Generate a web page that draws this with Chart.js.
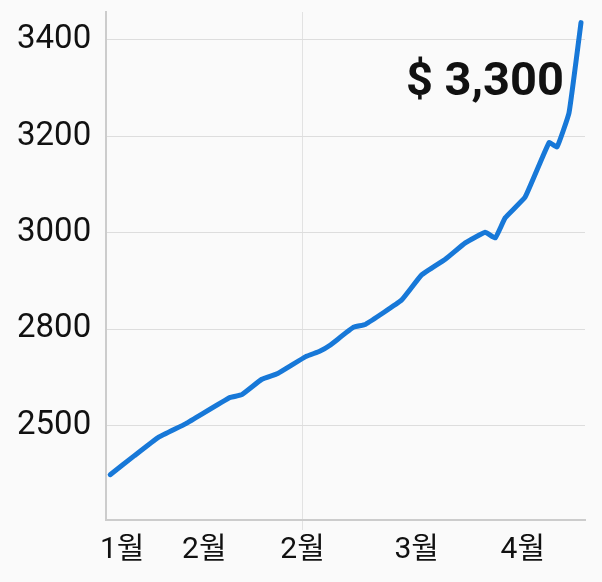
<!DOCTYPE html>
<html>
<head>
<script src="https://cdn.jsdelivr.net/npm/chart.js@4.4.1/dist/chart.umd.min.js"></script>
<style>
  body { margin: 0; background: #fafafa; }
  #wrap { width: 602px; height: 582px; }
</style>
</head>
<body>
<div id="wrap"><canvas id="myChart" width="602" height="582"></canvas></div>
<script>
// days since Jan 1 and the price on that day
const days = [1, 7, 13, 20, 31, 34, 39, 43, 50, 53.5, 56, 62, 65, 74, 79, 85, 90, 95, 97.5, 100, 105, 111, 113, 116, 119];
const prices = [2498, 2537, 2575, 2604, 2658, 2664, 2696, 2708, 2743, 2754, 2766, 2804, 2810, 2860, 2912, 2945, 2979, 3001, 2989, 3031, 3074, 3187, 3178, 3249, 3436];

// axis ticks as drawn in the picture
const xTickDays = [4, 24.6, 49.2, 77.8, 104.4];
const xTickLabels = ['1월', '2월', '2월', '3월', '4월'];
const yTickValues = [2600, 2800, 3000, 3200, 3400];
const yTickLabels = ['2500', '2800', '3000', '3200', '3400'];

const headline = '$ 3,300';

const FONT = "Roboto, 'Noto Sans CJK KR', sans-serif";

// big price label in the upper right of the plot
const headlinePlugin = {
  id: 'headline',
  afterDraw(chart) {
    const ctx = chart.ctx;
    ctx.save();
    ctx.font = 'bold 47px ' + FONT;
    ctx.fillStyle = '#111';
    ctx.textAlign = 'right';
    ctx.textBaseline = 'alphabetic';
    ctx.fillText(headline, 564, 95);
    ctx.restore();
  }
};

const ctx = document.getElementById('myChart').getContext('2d');
const myChart = new Chart(ctx, {
  type: 'line',
  data: {
    datasets: [{
      data: days.map((d, i) => ({ x: d, y: prices[i] })),
      borderColor: '#1778d8',
      borderWidth: 5,
      pointRadius: 0,
      tension: 0.1,
      borderJoinStyle: 'round',
      borderCapStyle: 'round',
      fill: false
    }]
  },
  options: {
    responsive: false,
    animation: false,
    layout: { padding: { left: 2, right: 17, top: 12, bottom: 12 } },
    plugins: {
      legend: { display: false },
      tooltip: { enabled: false }
    },
    scales: {
      x: {
        type: 'linear',
        min: 0,
        max: 120,
        afterBuildTicks: axis => { axis.ticks = xTickDays.map(v => ({ value: v })); },
        afterFit: axis => { axis.paddingLeft = 0; axis.paddingRight = 0; },
        ticks: {
          autoSkip: false,
          maxRotation: 0,
          padding: 2,
          color: '#111',
          font: { family: FONT, size: 30 },
          callback: (v, i) => xTickLabels[i]
        },
        grid: {
          color: c => c.index === 2 ? '#e2e2e2' : 'rgba(0,0,0,0)',
          tickLength: 10
        },
        border: { color: '#cccccc', width: 2 }
      },
      y: {
        min: 2404,
        max: 3458,
        afterBuildTicks: axis => { axis.ticks = yTickValues.map(v => ({ value: v })); },
        afterFit: axis => { axis.paddingTop = 0; axis.paddingBottom = 0; },
        ticks: {
          padding: 15,
          color: '#111',
          font: { family: FONT, size: 33 },
          callback: (v, i) => yTickLabels[i]
        },
        grid: { color: '#dddddd', drawTicks: false },
        border: { color: '#cccccc', width: 2 }
      }
    }
  },
  plugins: [headlinePlugin]
});
</script>
</body>
</html>
